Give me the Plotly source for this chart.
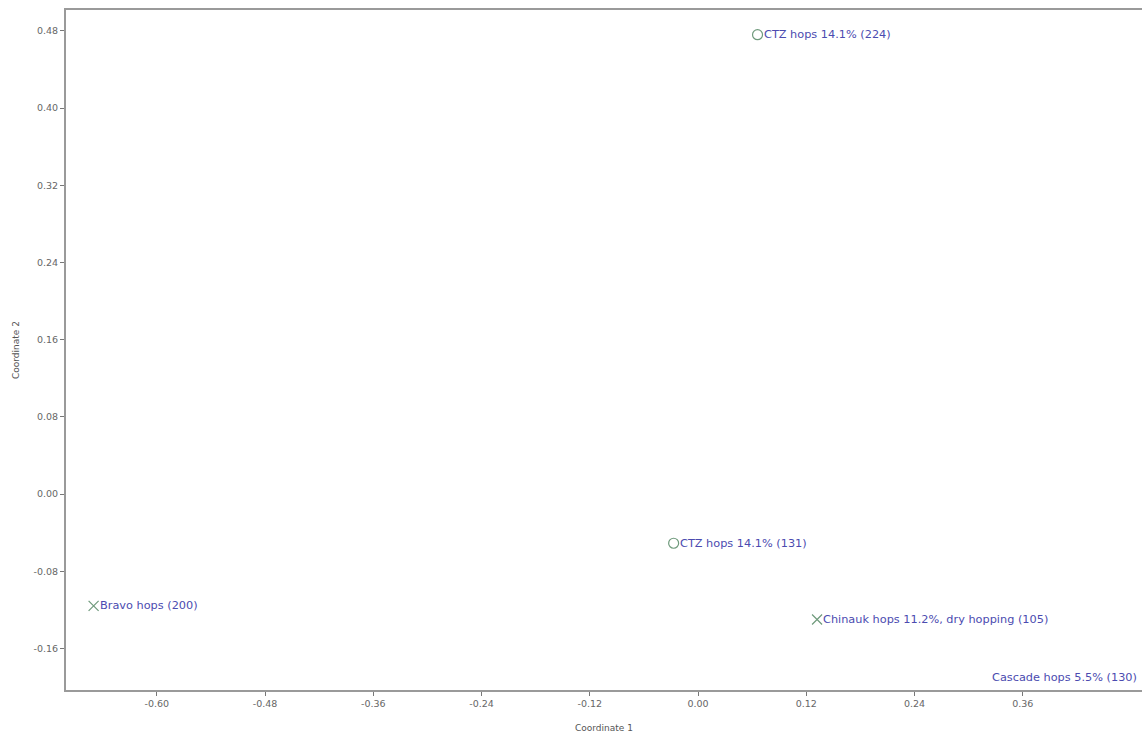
import plotly.graph_objects as go

# PCoA / nMDS ordination of hop additions
samples = [
    "CTZ hops 14.1% (224)",
    "CTZ hops 14.1% (131)",
    "Bravo hops (200)",
    "Chinauk hops 11.2%, dry hopping (105)",
    "Cascade hops 5.5% (130)",
]
coord1 = [0.066, -0.027, -0.670, 0.132, 0.505]
coord2 = [0.476, -0.051, -0.116, -0.130, -0.190]
group = ["A", "A", "B", "B", "B"]

x_ticks = [-0.60, -0.48, -0.36, -0.24, -0.12, 0.00, 0.12, 0.24, 0.36]
y_ticks = [-0.16, -0.08, 0.00, 0.08, 0.16, 0.24, 0.32, 0.40, 0.48]

symbol_for = {"A": "circle-open", "B": "x-thin-open"}
marker_color = "#6f9a7c"
label_color = "#4b4bb0"
axis_color = "#9a9a9a"
font_family = "DejaVu Sans, Verdana, sans-serif"


def fmt(v):
    return f"{v:.2f}"


fig = go.Figure()
fig.add_trace(go.Scatter(
    x=coord1,
    y=coord2,
    mode="markers",
    marker=dict(
        symbol=[symbol_for[g] for g in group],
        size=10,
        color=marker_color,
        line=dict(color=marker_color, width=1.2),
    ),
    hovertext=samples,
    cliponaxis=True,
    showlegend=False,
))

# point labels to the right of each marker; the last one sits against the right edge
for name, x, y in zip(samples, coord1, coord2):
    if x > 0.45:
        fig.add_annotation(x=1.0, xref="paper", y=y, text=name, showarrow=False,
                           xanchor="right", yanchor="middle", xshift=-3,
                           font=dict(size=11.3, color=label_color, family=font_family))
    else:
        fig.add_annotation(x=x, y=y, text=name, showarrow=False,
                           xanchor="left", yanchor="middle", xshift=4,
                           font=dict(size=11.3, color=label_color, family=font_family))

axis_common = dict(
    showgrid=False,
    zeroline=False,
    showline=True,
    linecolor=axis_color,
    linewidth=2,
    ticks="outside",
    ticklen=4,
    tickwidth=1,
    tickcolor="#777777",
    tickfont=dict(size=9.5, color="#666666", family=font_family),
    title_font=dict(size=9, color="#555555", family=font_family),
)

fig.update_layout(
    width=1142,
    height=738,
    margin=dict(l=66, r=0, t=10, b=48),
    paper_bgcolor="white",
    plot_bgcolor="white",
    font=dict(family=font_family),
    xaxis=dict(
        axis_common,
        range=[-0.7006, 0.4922],
        tickmode="array",
        tickvals=x_ticks,
        ticktext=[fmt(v) for v in x_ticks],
        mirror=True,
        title=dict(text="Coordinate 1", standoff=16),
    ),
    yaxis=dict(
        axis_common,
        range=[-0.2031, 0.5016],
        tickmode="array",
        tickvals=y_ticks,
        ticktext=[fmt(v) for v in y_ticks],
        title=dict(text="Coordinate 2", standoff=12),
    ),
)

fig.write_html("out.html")
